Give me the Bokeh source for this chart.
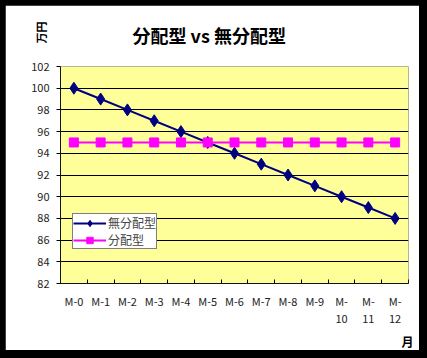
from bokeh.plotting import figure
from bokeh.layouts import column
from bokeh.models import FixedTicker, Legend, LegendItem, Range1d, BoxAnnotation, Title
from bokeh.embed import file_html
from bokeh.resources import INLINE

categories = ["M-0", "M-1", "M-2", "M-3", "M-4", "M-5", "M-6", "M-7", "M-8", "M-9", "M-10", "M-11", "M-12"]
no_dist = [100, 99, 98, 97, 96, 95, 94, 93, 92, 91, 90, 89, 88]
dist = [95, 95, 95, 95, 95, 95, 95, 95, 95, 95, 95, 95, 95]
y_ticks = [82, 84, 86, 88, 90, 92, 94, 96, 98, 100, 102]

xs = list(range(len(categories)))
FONT = "Noto Sans CJK JP"

p = figure(width=414, height=345, output_backend="svg", toolbar_location=None,
           x_range=Range1d(-0.5, len(categories) - 0.5), y_range=Range1d(82, 102),
           min_border_left=55, min_border_right=11, min_border_top=61, min_border_bottom=66)
p.margin = (5, 8, 8, 5)
p.border_fill_color = "white"
p.outline_line_color = None
p.background_fill_color = "#FFFF99"

p.xgrid.grid_line_color = None
p.ygrid.grid_line_color = "black"
p.ygrid.grid_line_width = 1

p.yaxis.ticker = FixedTicker(ticks=y_ticks)
p.yaxis.axis_line_color = "black"
p.yaxis.major_tick_out = 4
p.yaxis.major_tick_in = 0
p.yaxis.minor_tick_line_color = None
p.yaxis.major_label_standoff = 7
p.yaxis.major_label_text_font = FONT
p.yaxis.major_label_text_font_size = "11px"
p.yaxis.major_label_text_color = "#222222"

p.xaxis.ticker = FixedTicker(ticks=xs, minor_ticks=[i - 0.5 for i in range(len(categories) + 1)])
p.xaxis.major_label_overrides = {i: (c if len(c) <= 3 else c[:2] + "\n" + c[2:]) for i, c in enumerate(categories)}
p.xaxis.axis_line_color = "black"
p.xaxis.major_tick_line_color = None
p.xaxis.minor_tick_in = 4
p.xaxis.minor_tick_out = 0
p.xaxis.minor_tick_line_color = "black"
p.xaxis.major_label_standoff = 3
p.xaxis.major_label_text_font = FONT
p.xaxis.major_label_text_font_size = "11px"
p.xaxis.major_label_text_color = "#222222"
p.xaxis.major_label_text_line_height = 1.1

p.add_layout(BoxAnnotation(left=-0.5, right=len(categories) - 0.5, bottom=82, top=102,
                           fill_color=None, line_color="#808080", line_width=1))

r1 = p.line(xs, no_dist, line_color="#000080", line_width=2)
m1 = p.scatter(xs, no_dist, marker="diamond", size=12, fill_color="#000080", line_color="#000080")
r2 = p.line(xs, dist, line_color="#FF00FF", line_width=2)
m2 = p.scatter(xs, dist, marker="square", size=9, fill_color="#FF00FF", line_color="#FF00FF")

legend = Legend(items=[LegendItem(label="無分配型", renderers=[r1, m1]),
                       LegendItem(label="分配型", renderers=[r2, m2])],
                location=(12, 34), border_line_color="black", border_line_width=1,
                background_fill_color="white", background_fill_alpha=1,
                label_text_font=FONT, label_text_font_size="12px", label_text_line_height=1.0,
                glyph_width=33, glyph_height=16, label_standoff=2,
                padding=0, spacing=0, margin=0, label_height=16)
p.add_layout(legend, "center")

p.title = Title(text="分配型 vs 無分配型", text_font=FONT, text_font_size="18px",
                text_font_style="bold", align="left", offset=72, vertical_align="top",
                standoff=33, text_color="black")
p.add_layout(Title(text="万円", text_font=FONT, text_font_size="11px", text_font_style="bold",
                   align="right", offset=-45, standoff=-41, text_color="black"), "left")
p.add_layout(Title(text="月", text_font=FONT, text_font_size="12px", text_font_style="bold",
                   text_line_height=1.0, align="right", offset=-5, standoff=2,
                   text_color="black"), "below")

root = column(p, width=427, height=358, styles={"background-color": "black"})
open("out.html", "w").write(file_html(root, INLINE))
